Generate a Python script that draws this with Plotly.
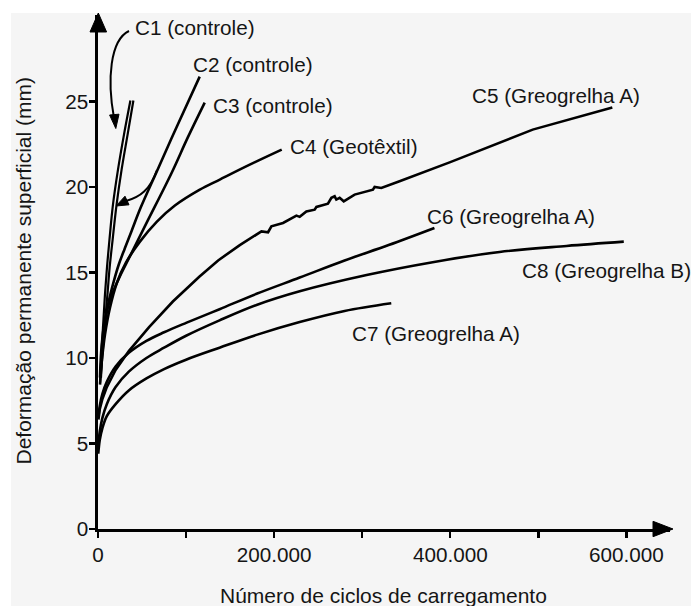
import plotly.graph_objects as go

# ---------------- data (cycles, mm) ----------------
c1a_x = [2300, 3400, 4500, 6200, 7900, 10200, 13000, 17000, 22700, 29500, 36800]
c1a_y = [8.56, 9.61, 10.78, 12.24, 13.70, 15.28, 16.91, 18.96, 21.01, 23.06, 25.05]

c1b_x = [3400, 4600, 6500, 8400, 10900, 13200, 16600, 21100, 26800, 33600, 40200]
c1b_y = [8.85, 9.90, 11.07, 12.36, 13.82, 15.28, 16.91, 18.96, 21.01, 23.06, 25.05]

c2_x = [3070, 4770, 7610, 12150, 17830, 23500, 30310, 38260, 48480, 66650, 90490, 115470]
c2_y = [9.20, 10.48, 11.95, 13.29, 14.46, 15.45, 16.39, 17.44, 18.79, 20.89, 23.64, 26.45]

c3_x = [2270, 3630, 6470, 11010, 16690, 24640, 35990, 55290, 83680, 101850, 121150]
c3_y = [8.85, 10.37, 11.77, 12.94, 13.82, 14.75, 15.92, 17.91, 20.83, 22.88, 24.93]

c4_x = [2300, 4500, 7900, 13600, 21500, 31700, 47600, 66900, 87300, 115600, 138300, 172300, 208600]
c4_y = [8.44, 9.90, 11.36, 12.94, 14.40, 15.57, 16.80, 17.97, 18.91, 19.84, 20.43, 21.30, 22.18]

c5_x = [500, 2000, 5000, 10000, 20000, 35000, 58000, 85000, 115000, 136400, 161000, 185600,
        193100, 196900, 210100, 225300, 229000, 236600, 246000, 248000, 261100, 265000,
        268700, 270600, 274400, 279000, 291400, 312200, 314100, 321700, 342400, 400000,
        493600, 584000]
c5_y = [6.4, 7.0, 7.6, 8.3, 9.3, 10.4, 11.8, 13.3, 14.75, 15.7, 16.6, 17.40,
        17.35, 17.70, 17.89, 18.32, 18.25, 18.57, 18.67, 18.83, 19.02, 19.36,
        19.45, 19.26, 19.36, 19.16, 19.55, 19.84, 20.00, 19.94, 20.33, 21.45,
        23.35, 24.64]

c6_x = [500, 2000, 5000, 10000, 20000, 35000, 55000, 75000, 100000, 138000, 180000, 229000, 280000, 330000, 382000]
c6_y = [6.5, 7.2, 7.9, 8.6, 9.5, 10.3, 11.0, 11.5, 12.05, 12.85, 13.75, 14.7, 15.7, 16.6, 17.6]

c8_x = [500, 2000, 5000, 10000, 20000, 35000, 55000, 75000, 100000, 138000, 180000, 229000, 305000, 380000, 456000, 532000, 597000]
c8_y = [5.0, 5.7, 6.5, 7.3, 8.3, 9.2, 10.0, 10.6, 11.3, 12.2, 13.1, 13.9, 14.85, 15.6, 16.2, 16.55, 16.8]

c7_x = [300, 2000, 5000, 10000, 20000, 35000, 55000, 75000, 100000, 138000, 180000, 229000, 280000, 333000]
c7_y = [4.4, 5.2, 5.9, 6.6, 7.3, 8.1, 8.8, 9.35, 9.9, 10.6, 11.35, 12.1, 12.75, 13.2]

x_tickvals = [0, 100000, 200000, 300000, 400000, 500000, 600000]
x_ticktext = ["0", "", "200.000", "", "400.000", "", "600.000"]
y_tickvals = [0, 5, 10, 15, 20, 25]
y_ticktext = ["0", "5", "10", "15", "20", "25"]

labels = ["C1 (controle)", "C2 (controle)", "C3 (controle)", "C4 (Geotêxtil)",
          "C5 (Greogrelha A)", "C6 (Greogrelha A)", "C8 (Greogrelha B)", "C7 (Greogrelha A)"]

x_title = "Número de ciclos de carregamento"
y_title = "Deformação permanente superficial (mm)"

# ---------------- layout helpers ----------------
W, H = 693, 606
L, R, T, B = 98, 23, 15, 77
PW, PH = W - L - R, H - T - B
X_MAX = PW / 0.0008807
Y_MAX = PH / 17.104
FONT = "Liberation Sans, Arial, Helvetica, sans-serif"
TXT = "#151515"
BG = "#f5f5f5"


def fx(p):
    return (p - L) / PW


def fy(p):
    return (H - B - p) / PH


def path(points, close=False):
    s = "M " + " L ".join(f"{fx(a):.5f},{fy(b):.5f}" for a, b in points)
    return s + (" Z" if close else "")


fig = go.Figure()

curves = [(c1a_x, c1a_y, "spline", 2.2), (c1b_x, c1b_y, "spline", 2.2),
          (c2_x, c2_y, "spline", 2.6), (c3_x, c3_y, "spline", 2.6),
          (c4_x, c4_y, "spline", 2.6), (c5_x, c5_y, "linear", 2.6),
          (c6_x, c6_y, "spline", 2.6), (c8_x, c8_y, "spline", 2.6),
          (c7_x, c7_y, "spline", 2.6)]
for xs, ys, shp, w in curves:
    line = dict(color="black", width=w, shape=shp)
    if shp == "spline":
        line["smoothing"] = 1.0
    fig.add_trace(go.Scatter(x=xs, y=ys, mode="lines", line=line,
                             showlegend=False, hoverinfo="skip"))

shapes = [
    # white border strips around the grey panel
    dict(type="rect", xref="paper", yref="paper", x0=fx(0), x1=fx(11), y0=fy(H), y1=fy(0),
         fillcolor="white", line_width=0, layer="below"),
    dict(type="rect", xref="paper", yref="paper", x0=fx(0), x1=fx(W), y0=fy(13), y1=fy(0),
         fillcolor="white", line_width=0, layer="below"),
    dict(type="rect", xref="paper", yref="paper", x0=fx(691), x1=fx(W), y0=fy(H), y1=fy(0),
         fillcolor="white", line_width=0, layer="below"),
    # axis arrowheads
    dict(type="path", xref="paper", yref="paper",
         path=path([(98.3, 13), (90, 32), (106.6, 32)], True),
         fillcolor="black", line=dict(color="black", width=1)),
    dict(type="path", xref="paper", yref="paper",
         path=path([(673, 529), (653, 521.3), (653, 536.7)], True),
         fillcolor="black", line=dict(color="black", width=1)),
    # curved pointer arrows from C1 label
    dict(type="path", xref="paper", yref="paper",
         path=(f"M {fx(129):.5f},{fy(31):.5f} C {fx(110):.5f},{fy(40):.5f} "
               f"{fx(107):.5f},{fy(80):.5f} {fx(114):.5f},{fy(118):.5f}"),
         line=dict(color="black", width=2)),
    dict(type="path", xref="paper", yref="paper",
         path=path([(115.8, 128.5), (109.6, 115), (119, 114.2)], True),
         fillcolor="black", line=dict(color="black", width=1)),
    dict(type="path", xref="paper", yref="paper",
         path=(f"M {fx(157):.5f},{fy(170):.5f} C {fx(150):.5f},{fy(190):.5f} "
               f"{fx(140):.5f},{fy(197):.5f} {fx(126):.5f},{fy(201):.5f}"),
         line=dict(color="black", width=2)),
    dict(type="path", xref="paper", yref="paper",
         path=path([(116, 206), (125, 196.2), (129, 204.8)], True),
         fillcolor="black", line=dict(color="black", width=1)),
]

label_pos = [(135, 27), (193, 64), (213, 105), (290, 146),
             (472, 95), (427, 216), (522, 270), (352, 333)]
annotations = []
for text, (lx, ly) in zip(labels, label_pos):
    annotations.append(dict(text=text, xref="paper", yref="paper", x=fx(lx), y=fy(ly),
                            xanchor="left", yanchor="middle", showarrow=False,
                            borderpad=0, borderwidth=0,
                            font=dict(family=FONT, size=20.7, color=TXT)))
annotations.append(dict(text=x_title, xref="paper", yref="paper", x=fx(383), y=fy(595),
                        xanchor="center", yanchor="middle", showarrow=False,
                        font=dict(family=FONT, size=21, color=TXT)))
annotations.append(dict(text=y_title, xref="paper", yref="paper", x=fx(23), y=fy(271.5),
                        xanchor="center", yanchor="middle", showarrow=False, textangle=-90,
                        font=dict(family=FONT, size=21, color=TXT)))

fig.update_layout(
    width=W, height=H,
    margin=dict(l=L, r=R, t=T, b=B, autoexpand=False),
    paper_bgcolor=BG, plot_bgcolor=BG,
    shapes=shapes, annotations=annotations,
    showlegend=False,
)
fig.update_xaxes(range=[0, X_MAX], showgrid=False, zeroline=False,
                 showline=True, linecolor="black", linewidth=2.6,
                 ticks="outside", ticklen=6, tickwidth=2.4, tickcolor="black",
                 tickmode="array", tickvals=x_tickvals, ticktext=x_ticktext,
                 ticklabelstandoff=0,
                 tickfont=dict(family=FONT, size=20.7, color=TXT))
fig.update_yaxes(range=[0, Y_MAX], showgrid=False, zeroline=False,
                 showline=True, linecolor="black", linewidth=2.6,
                 ticks="outside", ticklen=6, tickwidth=2.4, tickcolor="black",
                 tickmode="array", tickvals=y_tickvals, ticktext=y_ticktext,
                 ticklabelstandoff=-3,
                 tickfont=dict(family=FONT, size=20.7, color=TXT))

fig.write_html("out.html",
               config={"displayModeBar": False, "staticPlot": True},
               post_script="document.body.style.margin='0';document.body.style.padding='0';")
